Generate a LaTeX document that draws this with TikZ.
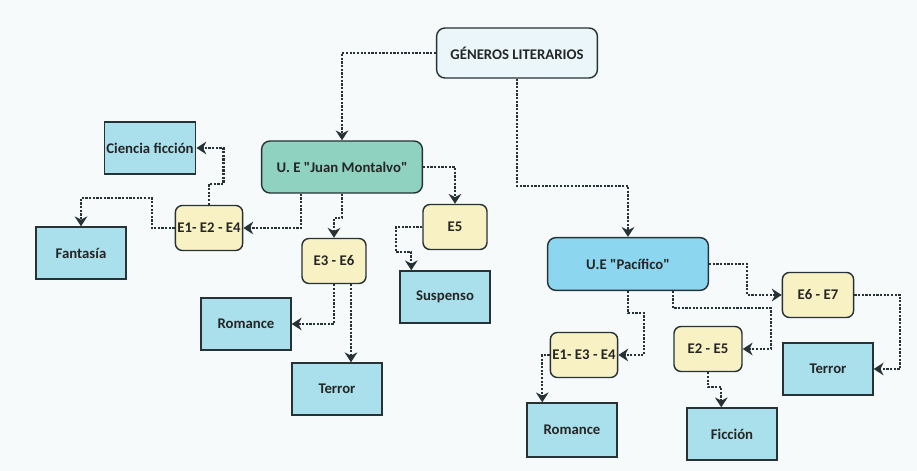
\documentclass[tikz,border=0pt]{standalone}
\usepackage{fontspec}
\setmainfont{Carlito}
\usetikzlibrary{arrows.meta,calc}

\definecolor{paper}{HTML}{F6FAFA}
\definecolor{inkline}{HTML}{263236}
\definecolor{leafcol}{HTML}{A9E0EB}
\definecolor{groupcol}{HTML}{F7F1C4}
\definecolor{jmcol}{HTML}{8FD2BF}
\definecolor{paccol}{HTML}{8DD6F0}
\definecolor{titlecol}{HTML}{EAF6F9}

\begin{document}
\begin{tikzpicture}[
  x = 0.025cm, y = -0.025cm,
  every node/.style = {font=\fontsize{10.5}{12}\selectfont\bfseries, text=black!85, draw=inkline, line width=1pt, inner sep=1.5pt},
  leaf/.style = {fill=leafcol, minimum width=2.25cm, minimum height=1.3cm},
  group/.style = {fill=groupcol, rounded corners=5pt, minimum width=1.6cm, minimum height=1.125cm},
  school/.style = {rounded corners=6pt, minimum width=4.02cm, minimum height=1.3cm},
  link/.style = {draw=inkline, densely dotted, line width=1.6pt, -{Stealth[length=7pt,width=9pt]}}
  ]
  \useasboundingbox (0,0) rectangle (917,471);
  \fill[paper] (0,0) rectangle (917,471);

  % top
  \node[school, fill=titlecol, minimum height=1.25cm] (title) at (517,53) {GÉNEROS LITERARIOS};
  \node[school, fill=jmcol] (jm) at (342,167) {U. E \textquotedbl Juan Montalvo\textquotedbl};
  \node[school, fill=paccol, minimum height=1.32cm] (pac) at (628,264) {U.E \textquotedbl Pacífico\textquotedbl};

  % Juan Montalvo side
  \node[leaf] (cf) at (150,148) {Ciencia ficción};
  \node[leaf] (fan) at (81,253) {Fantasía};
  \node[group] (e124) at (209,228) {E1- E2 - E4};
  \node[group] (e36) at (334,261) {E3 - E6};
  \node[group] (e5) at (455,227) {E5};
  \node[leaf] (sus) at (445,297) {Suspenso};
  \node[leaf] (romL) at (246,324) {Romance};
  \node[leaf] (terL) at (337,389) {Terror};

  % Pacifico side
  \node[group, minimum width=1.78cm] (e67) at (818,295) {E6 - E7};
  \node[group] (e134) at (584,355) {E1- E3 - E4};
  \node[group, minimum width=1.7cm] (e25) at (708,349) {E2 - E5};
  \node[leaf] (terR) at (828,369) {Terror};
  \node[leaf, minimum height=1.35cm] (romR) at (572,430) {Romance};
  \node[leaf] (fic) at (732,434) {Ficción};

  \draw[link] (title.west) -| (jm.north);
  \draw[link] (title.south) -- ++(0,107) -| (pac.north);

  \draw[link] (jm.east) -| (e5.north);
  \draw[link] ($(jm.south west)+(40,0)$) |- (e124.east);
  \draw[link] (jm.south) -- ++(0,24) -| (e36.north);
  \draw[link] (e124.north) -- ++(0,-21) -| ($(cf.east)+(27,0)$) -- (cf.east);
  \draw[link] (e124.west) -- ++(-23,0) -- ++(0,-30) -| (fan.north);
  \draw[link] (e5.west) -- ++(-26,0) -- ++(0,25) -| ($(sus.north west)+(12,0)$);
  \draw[link] (e36.south) |- (romL.east);
  \draw[link] ($(e36.south)+(17,0)$) -- ($(terL.north)+(14,0)$);

  \draw[link] (pac.east) -- ++(38,0) |- (e67.west);
  \draw[link] (pac.south) -- ++(0,22) -- ++(16,0) |- (e134.east);
  \draw[link] ($(pac.south)+(45,0)$) -- ++(0,17) -| ($(e25.east)+(28,0)$) -- (e25.east);
  \draw[link] (e67.east) -- ++(46,0) |- (terR.east);
  \draw[link] (e134.west) -| ($(romR.north west)+(16,0)$);
  \draw[link] (e25.south) -- ++(0,15) -| ($(fic.north west)+(35,0)$);
\end{tikzpicture}
\end{document}
